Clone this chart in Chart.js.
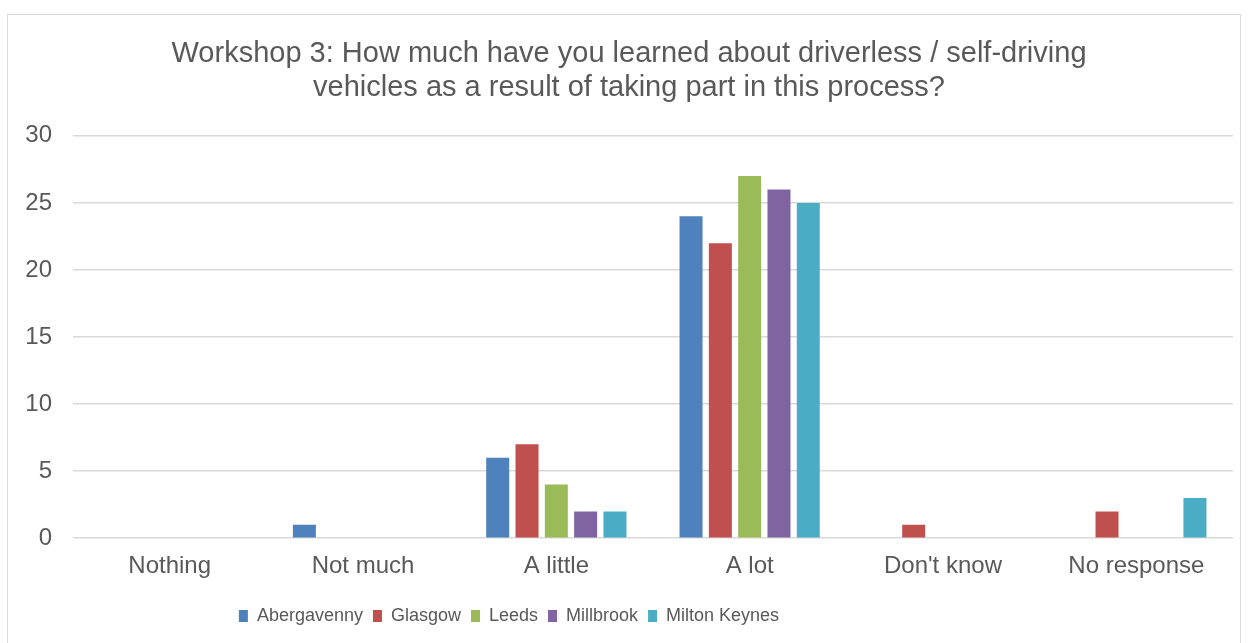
<!DOCTYPE html>
<html>
<head>
<meta charset="utf-8">
<script src="https://cdn.jsdelivr.net/npm/chart.js@4.4.0/dist/chart.umd.min.js"></script>
<style>
  html, body { margin: 0; padding: 0; background: #fff; }
  #frame {
    position: absolute; left: 7px; top: 14px; width: 1234px; height: 640px;
    border: 1px solid #d9d9d9; box-sizing: border-box;
  }
  #wrap { position: absolute; left: 0; top: 0; width: 1232px; height: 629px; }
</style>
</head>
<body>
<div id="frame"><div id="wrap"><canvas id="surveyChart"></canvas></div></div>
<script>
// Workshop 3 survey responses
const categories = ['Nothing', 'Not much', 'A little', 'A lot', "Don't know", 'No response'];
const seriesNames = ['Abergavenny', 'Glasgow', 'Leeds', 'Millbrook', 'Milton Keynes'];
const abergavenny = [0, 1, 6, 24, 0, 0];
const glasgow = [0, 0, 7, 22, 1, 2];
const leeds = [0, 0, 4, 27, 0, 0];
const millbrook = [0, 0, 2, 26, 0, 0];
const miltonKeynes = [0, 0, 2, 25, 0, 3];
const yTicks = [0, 5, 10, 15, 20, 25, 30];

const colours = ['#4f81bd', '#c0504d', '#9bbb59', '#8064a2', '#4bacc6'];
const values = [abergavenny, glasgow, leeds, millbrook, miltonKeynes];

const textColour = '#595959';
const fontFamily = '"Liberation Sans", Arial, sans-serif';

// the legend in the original sits left of centre
const legendShift = {
  id: 'legendShift',
  afterLayout(chart) {
    const lg = chart.legend;
    if (!lg) return;
    lg.left -= 120;
    lg.right -= 120;
  }
};

new Chart(document.getElementById('surveyChart'), {
  type: 'bar',
  data: {
    labels: categories,
    datasets: seriesNames.map((name, i) => ({
      label: name,
      data: values[i],
      backgroundColor: colours[i],
      borderWidth: 0,
      categoryPercentage: 0.758,
      barPercentage: 0.785
    }))
  },
  options: {
    responsive: true,
    maintainAspectRatio: false,
    animation: false,
    layout: { padding: { left: 17, right: 7, top: 6, bottom: 9 } },
    plugins: {
      title: {
        display: true,
        text: ['Workshop 3: How much have you learned about driverless / self-driving',
               'vehicles as a result of taking part in this process?'],
        color: textColour,
        font: { family: fontFamily, size: 29, weight: 'normal', lineHeight: 1.17 },
        padding: { top: 16, bottom: 31 }
      },
      legend: {
        position: 'bottom',
        labels: {
          color: textColour,
          font: { family: fontFamily, size: 18 },
          boxWidth: 9,
          boxHeight: 12,
          padding: 10
        }
      },
      tooltip: { enabled: false }
    },
    scales: {
      x: {
        afterFit: axis => { axis.height += 10; },
        grid: { display: false },
        border: { display: false },
        ticks: { color: textColour, font: { family: fontFamily, size: 24 }, padding: 6 }
      },
      y: {
        min: 0,
        max: 30,
        afterBuildTicks: axis => { axis.ticks = yTicks.map(v => ({ value: v })); },
        afterFit: axis => { axis.width = 48; },
        grid: { color: '#d9d9d9', lineWidth: 1.5, drawTicks: false },
        border: { display: false },
        ticks: { color: textColour, font: { family: fontFamily, size: 24 }, padding: 21 }
      }
    }
  },
  plugins: [legendShift]
});
</script>
</body>
</html>
